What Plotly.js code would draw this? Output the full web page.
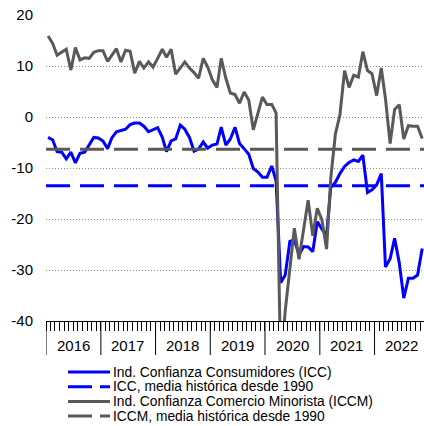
<!DOCTYPE html>
<html><head><meta charset="utf-8">
<script src="https://cdn.plot.ly/plotly-3.0.1.min.js"></script>
<style>html,body{margin:0;padding:0;background:#fff;overflow:hidden}#chart{width:424px;height:426px}</style>
</head><body><div id="chart"></div>
<script>
// ---- data (monthly, Jan 2016 - Nov 2022) ----
const startYear = 2016;
const icc = [
  -4.0,-4.5,-6.8,-6.9,-8.2,-6.9,-9.0,-7.1,-6.9,-5.5,-4.0,-4.1,
  -4.7,-6.2,-4.1,-2.9,-2.7,-2.4,-1.5,-1.2,-1.2,-1.8,-2.9,-2.5,
  -2.1,-4.0,-6.8,-4.7,-4.3,-1.6,-2.4,-4.0,-6.7,-6.3,-4.9,-6.1,
  -5.5,-5.3,-2.0,-5.5,-4.3,-2.0,-5.2,-6.2,-7.3,-10.1,-10.8,-11.8,
  -11.8,-9.6,-12.5,-32.5,-31.0,-24.4,-24.1,-27.0,-25.4,-25.5,-26.4,-20.5,
  -22.0,-23.2,-13.8,-12.8,-11.1,-9.7,-8.9,-8.4,-8.7,-7.5,-14.8,-14.3,
  -13.3,-11.1,-29.4,-27.8,-23.8,-28.6,-35.5,-31.6,-31.6,-31.0,-25.8
];
const iccm = [
  15.9,14.4,12.1,12.7,13.3,9.2,13.6,11.2,11.6,11.5,12.7,13.0,
  13.0,10.9,12.0,13.4,10.8,13.1,12.9,8.6,10.9,9.6,10.8,9.8,
  11.5,13.3,11.7,13.3,8.4,9.6,10.8,9.6,8.7,7.6,11.5,9.8,
  7.3,5.8,11.5,7.6,4.7,4.4,2.7,4.9,3.3,-2.5,0.5,3.9,
  2.4,2.5,0.8,-50.0,-38.0,-30.0,-21.8,-27.9,-22.0,-16.3,-23.3,-17.9,
  -20.2,-25.9,-12.0,-3.3,0.4,9.1,5.8,8.2,7.8,12.8,9.1,8.5,
  4.2,9.6,3.6,-5.2,1.5,2.4,-4.3,-1.7,-1.8,-1.8,-4.2
];
const iccMean = -13.5;
const iccmMean = -6.3;
const years = ['2016','2017','2018','2019','2020','2021','2022'];
const yTickVals = [-40,-30,-20,-10,0,10,20];
const yTickText = ['-40','-30','-20','-10','0','10','20'];
const seriesNames = [
  'Ind. Confianza Consumidores (ICC)',
  'ICC, media histórica desde 1990',
  'Ind. Confianza Comercio Minorista (ICCM)',
  'ICCM, media histórica desde 1990'
];

// ---- derived ----
const months = icc.map((_, i) => {
  const y = startYear + Math.floor(i / 12);
  const m = (i % 12) + 1;
  return y + '-' + String(m).padStart(2, '0') + '-15';
});
const xRange = ['2016-01-01', '2022-11-27'];

const BLUE = '#0000ff', GRAY = '#595959';
const FONT = 'Arial, "Liberation Sans", sans-serif';
const L = 46, T = 15, PW = 378, PH = 306;
const px = x => (x - L) / PW;
const py = y => (T + PH - y) / PH;

const traces = [
  {x: months, y: icc, type: 'scatter', mode: 'lines', name: seriesNames[0],
   line: {color: BLUE, width: 3}},
  {x: xRange, y: [iccMean, iccMean], type: 'scatter', mode: 'lines', name: seriesNames[1],
   line: {color: BLUE, width: 3, dash: '24px,10px'}},
  {x: months, y: iccm, type: 'scatter', mode: 'lines', name: seriesNames[2],
   line: {color: GRAY, width: 3}},
  {x: xRange, y: [iccmMean, iccmMean], type: 'scatter', mode: 'lines', name: seriesNames[3],
   line: {color: GRAY, width: 3, dash: '24px,10px'}}
];

const shapes = [];
const annotations = [];
years.forEach(y => {
  shapes.push({type: 'line', xref: 'x', yref: 'paper', x0: y + '-01-01', x1: y + '-01-01',
    y0: 0, y1: py(355), line: {color: '#000', width: 1}});
  annotations.push({xref: 'x', yref: 'paper', x: y + '-07-01', y: py(345), text: y,
    showarrow: false, xanchor: 'center', yanchor: 'middle', font: {size: 15, color: '#000', family: FONT}});
});

// manual legend
const legRows = [372, 386.7, 401.4, 416.1];
const legStyles = [
  {color: BLUE, dash: 'solid'}, {color: BLUE, dash: '24px,8px'},
  {color: GRAY, dash: 'solid'}, {color: GRAY, dash: '24px,8px'}
];
seriesNames.forEach((n, i) => {
  shapes.push({type: 'line', xref: 'paper', yref: 'paper', x0: px(68), x1: px(110),
    y0: py(legRows[i]), y1: py(legRows[i]), line: {color: legStyles[i].color, width: 3, dash: legStyles[i].dash}});
  annotations.push({xref: 'paper', yref: 'paper', x: px(111.5), y: py(legRows[i]), text: n,
    showarrow: false, xanchor: 'left', yanchor: 'middle', borderpad: 0,
    font: {size: 13.8, color: '#000', family: FONT}});
});

const layout = {
  width: 424, height: 426,
  margin: {l: L, r: 0, t: T, b: 105, pad: 0},
  paper_bgcolor: '#fff', plot_bgcolor: '#fff',
  showlegend: false,
  font: {family: FONT, color: '#000', size: 15},
  xaxis: {
    type: 'date', range: xRange, tickmode: 'linear', tick0: '2016-01-01', dtick: 'M1',
    ticks: 'outside', ticklen: 9, tickwidth: 1, tickcolor: '#000',
    showticklabels: false, showgrid: false, zeroline: false,
    showline: true, linecolor: '#000', linewidth: 1, fixedrange: true
  },
  yaxis: {
    range: [-40, 20], tickmode: 'array', tickvals: yTickVals, ticktext: yTickText,
    showgrid: true, gridcolor: '#8c8c8c', gridwidth: 1, griddash: '1px,2px',
    zeroline: false, showline: false, ticks: '', ticklabelstandoff: 12,
    tickfont: {size: 15, color: '#000', family: FONT}, fixedrange: true
  },
  shapes: shapes,
  annotations: annotations
};

Plotly.newPlot('chart', traces, layout, {staticPlot: true, displayModeBar: false});
</script>
</body></html>
